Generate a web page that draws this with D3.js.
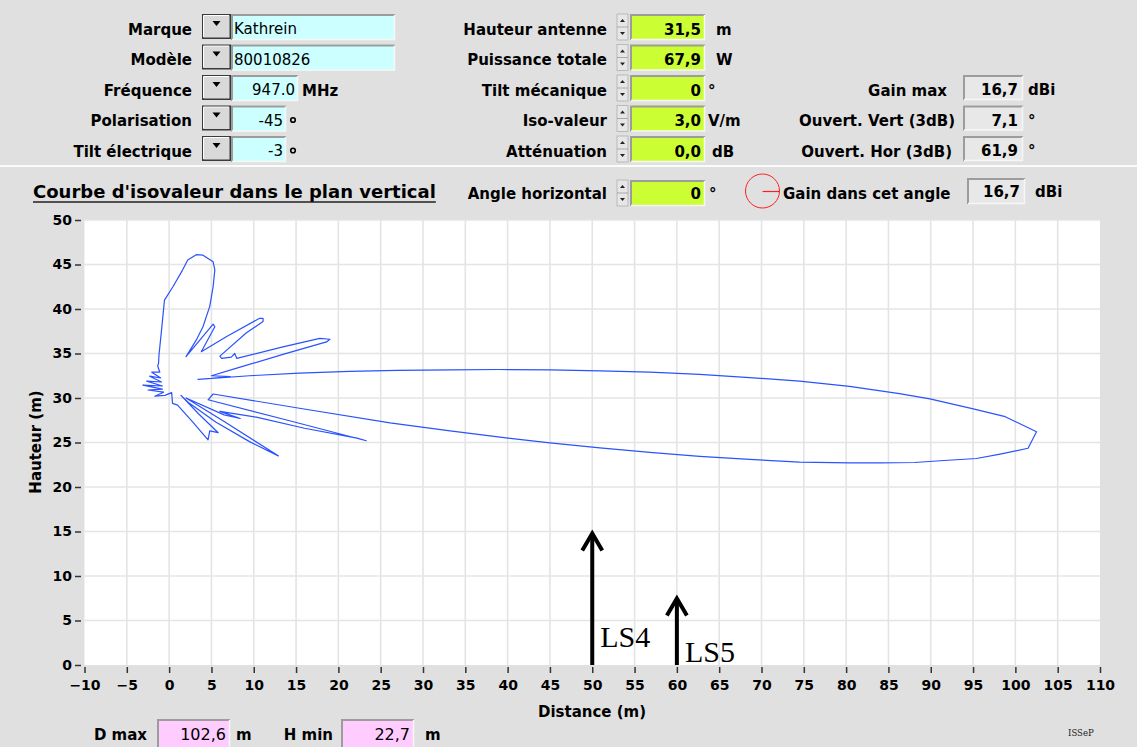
<!DOCTYPE html>
<html><head><meta charset="utf-8">
<script src="https://cdn.jsdelivr.net/npm/d3@7"></script>
<style>
body{margin:0;background:#e0e0e0;}
svg{display:block;font-family:"DejaVu Sans",sans-serif;}
</style></head><body>
<svg id="c" width="1137" height="747"></svg>
<script>
// ---------------- DATA ----------------
const xTickValues = [-10,-5,0,5,10,15,20,25,30,35,40,45,50,55,60,65,70,75,80,85,90,95,100,105,110];
const yTickValues = [0,5,10,15,20,25,30,35,40,45,50];

// iso-value contour in the vertical plane (distance m, height m), traced around the antenna
const curveDistance = [
  3.4,9.5,15.4,21.3,27,33.2,39,45,50.9,56.8,62.7,68.6,74.5,80.4,86.3,89.9,94.9,98.8,102.5,
  101.5,98.2,95.4,91.1,88.1,84,80.4,74.5,68.6,62.7,56.8,50.9,45,39.1,33.2,26.1,15.4,5.2,
  4.6,14,23.3,22.2,16,10.3,6.0,
  8.4,6.5,
  2.0,6.6,12.9,9.5,5.5,2.4,
  1.4,3.5,5.8,4.8,4.6,2.8,1.0,0.4,0.3,
  -0.5,-1.7,-0.65,-2.5,-0.8,-3.1,-0.8,-2.65,-0.9,-2.3,-1.0,-2.05,-1.1,-1.35,-1.25,
  -1.2,-0.9,-0.55,0.45,1.6,2.2,3.2,4.0,5.2,5.4,5.2,4.8,4.0,3.2,2.0,
  5.2,5.4,3.8,
  6.8,10.7,11.1,11.1,9.1,6.0,6.2,7.35,7.75,8.0,
  13.45,17.8,19.0,18.6,13.45,8.0,5.0,7.2,5.0
];
const curveHeight = [
  32.1,32.5,32.8,33.0,33.1,33.15,33.2,33.15,33.05,32.9,32.65,32.3,31.9,31.3,30.5,29.9,28.8,27.9,26.2,
  24.35,23.7,23.2,22.95,22.75,22.7,22.7,22.8,23.1,23.45,23.9,24.4,24.95,25.6,26.3,27.2,28.85,30.45,
  29.8,27.5,25.2,25.5,26.6,27.85,28.5,
  27.7,28.1,
  30.0,27.3,23.5,25.1,27.3,29.4,
  30.3,28.2,26.1,26.3,25.3,27.3,29.2,29.4,30.6,
  30.3,30.2,30.65,30.9,31.0,31.45,31.35,31.9,31.8,32.45,32.25,32.9,32.9,33.6,33.9,
  34.8,37.6,41.0,42.5,44.4,45.5,46.1,46.05,45.3,44.4,42.5,40.3,38.0,36.5,34.65,
  38.3,38.0,35.2,
  36.9,38.96,38.95,38.6,37.3,34.7,34.45,34.6,35.0,34.45,
  35.75,36.7,36.6,36.3,34.9,33.35,32.5,32.4,32.2
];

const arrowLabels = ["LS4","LS5"];
const arrowDistance = [50,60];
const arrowHeight = [15,7.7];

const leftLabels = ["Marque","Modèle","Fréquence","Polarisation","Tilt électrique"];
const leftValues = ["Kathrein","80010826","947.0","-45","-3"];
const leftUnits = ["","","MHz","°","°"];

const midLabels = ["Hauteur antenne","Puissance totale","Tilt mécanique","Iso-valeur","Atténuation"];
const midValues = ["31,5","67,9","0","3,0","0,0"];
const midUnits = ["m","W","°","V/m","dB"];

const rightLabels = ["Gain max","Ouvert. Vert (3dB)","Ouvert. Hor (3dB)"];
const rightValues = ["16,7","7,1","61,9"];
const rightUnits = ["dBi","°","°"];

const chartTitle = "Courbe d'isovaleur dans le plan vertical";
const angleLabel = "Angle horizontal";
const angleValue = "0";
const gainAngleLabel = "Gain dans cet angle";
const gainAngleValue = "16,7";
const dMax = "102,6";
const hMin = "22,7";

// ---------------- DRAWING ----------------
const svg = d3.select("#c");
const BOLD = 700;

function txt(x0, y0, s, opts = {}) {
  return svg.append("text").attr("x", x0).attr("y", y0).text(s)
    .attr("font-size", opts.size || 15)
    .attr("font-weight", opts.bold === false ? 400 : BOLD)
    .attr("text-anchor", opts.anchor || "start")
    .attr("fill", opts.fill || "#000")
    .attr("font-family", opts.family || null);
}
function sunken(x0, y0, w, h, fill) {
  svg.append("rect").attr("x", x0).attr("y", y0).attr("width", w).attr("height", h).attr("fill", fill);
  svg.append("path").attr("d", `M${x0+1},${y0+h}V${y0+1}H${x0+w}`)
    .attr("stroke", "#9c9c9c").attr("stroke-width", 2).attr("fill", "none");
  svg.append("path").attr("d", `M${x0+w-0.5},${y0+1}V${y0+h-0.5}H${x0+1}`)
    .attr("stroke", "#f6f6f6").attr("stroke-width", 1.5).attr("fill", "none");
}
function dropBtn(x0, y0, w, h) {
  svg.append("rect").attr("x", x0+0.75).attr("y", y0+0.75).attr("width", w-1.5).attr("height", h-1.5)
    .attr("fill", "#d9d9d9").attr("stroke", "#3a3a3a").attr("stroke-width", 1.5);
  svg.append("path").attr("d", `M${x0+1.5},${y0+h-2}V${y0+1.5}H${x0+w-2}`)
    .attr("stroke", "#fff").attr("stroke-width", 1).attr("fill", "none");
  const cx = x0 + w/2, cy = y0 + 9;
  svg.append("path").attr("d", `M${cx-4},${cy-2}L${cx+4},${cy-2}L${cx},${cy+3}Z`).attr("fill", "#000");
}
function spinner(x0, y0, h) {
  const w = 11;
  svg.append("rect").attr("x", x0).attr("y", y0).attr("width", w).attr("height", h)
    .attr("fill", "#e6e6e6").attr("stroke", "#b0b0b0").attr("stroke-width", 0.8);
  svg.append("line").attr("x1", x0).attr("x2", x0+w).attr("y1", y0+h/2).attr("y2", y0+h/2)
    .attr("stroke", "#9a9a9a").attr("stroke-width", 0.8);
  const cx = x0 + w/2;
  svg.append("path").attr("d", `M${cx-2.5},${y0+h/4+1.5}L${cx+2.5},${y0+h/4+1.5}L${cx},${y0+h/4-1.5}Z`).attr("fill", "#222");
  svg.append("path").attr("d", `M${cx-2.5},${y0+3*h/4-1.5}L${cx+2.5},${y0+3*h/4-1.5}L${cx},${y0+3*h/4+1.5}Z`).attr("fill", "#222");
}

// ---- top panel ----
const rowTop = i => 14 + 30.5*i;
const leftBoxW = [164,164,67,55,55];
leftLabels.forEach((lab, i) => {
  const T = rowTop(i);
  txt(192, T+20.5, lab, {anchor: "end"});
  dropBtn(202, T, 29, 25);
  sunken(231, T, leftBoxW[i], 26, "#ccffff");
  if (i < 2) txt(234, T+20, leftValues[i], {bold: false});
  else txt(231 + leftBoxW[i] - 3, T+20, leftValues[i], {bold: false, anchor: "end"});
  if (leftUnits[i] === "MHz") txt(302, T+20.5, "MHz");
  else if (leftUnits[i] === "°") {
    svg.append("circle").attr("cx", 293).attr("cy", T+14.5).attr("r", 2.3)
      .attr("fill", "none").attr("stroke", "#000").attr("stroke-width", 1.6);
  }
});
const midUnitX = [716,716,708,708,712];
midLabels.forEach((lab, i) => {
  const T = rowTop(i);
  txt(607, T+20.5, lab, {anchor: "end"});
  spinner(617, T, 26);
  sunken(630, T, 75, 26, "#ccff33");
  txt(701, T+20.5, midValues[i], {anchor: "end"});
  txt(midUnitX[i], T+20.5, midUnits[i]);
});
const rightLabelEnd = [947,955,952];
rightLabels.forEach((lab, i) => {
  const T = rowTop(i+2);
  txt(rightLabelEnd[i], T+20.5, lab, {anchor: "end"});
  sunken(963, T, 60, 25, "#e8e8e8");
  txt(1018, T+20, rightValues[i], {anchor: "end"});
  txt(1028, T+20, rightUnits[i]);
});
// separator
svg.append("line").attr("x1", 0).attr("x2", 1137).attr("y1", 166).attr("y2", 166)
  .attr("stroke", "#fbfbfb").attr("stroke-width", 2);

// ---- title row ----
const t = txt(33, 198, chartTitle, {size: 18});
const tl = t.node().getComputedTextLength();
svg.append("line").attr("x1", 33).attr("x2", 33 + tl).attr("y1", 202).attr("y2", 202)
  .attr("stroke", "#222").attr("stroke-width", 1.5);
txt(607, 199, angleLabel, {anchor: "end"});
spinner(617, 180, 26);
sunken(630, 180, 75, 26, "#ccff33");
txt(701, 199, angleValue, {anchor: "end"});
txt(709, 199, "°");
svg.append("circle").attr("cx", 762.5).attr("cy", 191).attr("r", 17)
  .attr("fill", "none").attr("stroke", "#ff2020").attr("stroke-width", 1);
svg.append("line").attr("x1", 762.5).attr("x2", 779.5).attr("y1", 191.5).attr("y2", 191.5)
  .attr("stroke", "#ff2020").attr("stroke-width", 1.2);
txt(783, 199, gainAngleLabel);
sunken(967, 178, 58, 26, "#e8e8e8");
txt(1020, 197, gainAngleValue, {anchor: "end"});
txt(1035, 197, "dBi");

// ---- plot ----
const x = d3.scaleLinear().domain([-10,110]).range([84.5,1100]);
const y = d3.scaleLinear().domain([0,50]).range([665,220]);

svg.append("rect").attr("x", x(-10)).attr("y", y(50))
  .attr("width", x(110)-x(-10)).attr("height", y(0)-y(50)).attr("fill", "#fff");
const grid = svg.append("g").attr("stroke", "#e4e4e4").attr("stroke-width", 1.6);
grid.selectAll(".gx").data(xTickValues.filter(d => d > -10 && d < 110)).join("line")
  .attr("x1", d => x(d)).attr("x2", d => x(d)).attr("y1", y(0)).attr("y2", y(50));
grid.selectAll(".gy").data(yTickValues.filter(d => d > 0)).join("line")
  .attr("x1", x(-10)).attr("x2", x(110)).attr("y1", d => y(d)).attr("y2", d => y(d));

const xAxis = d3.axisBottom(x).tickValues(xTickValues).tickSize(6).tickPadding(7)
  .tickFormat(d => d < 0 ? "\u2212" + (-d) : String(d));
const gx = svg.append("g").attr("transform", "translate(0,667)").call(xAxis);
const yAxis = d3.axisLeft(y).tickValues(yTickValues).tickSize(6).tickPadding(3);
const gy = svg.append("g").attr("transform", "translate(81,0)").call(yAxis);
[gx, gy].forEach(g => {
  g.select(".domain").remove();
  g.selectAll(".tick line").attr("stroke", "#333").attr("stroke-width", 1.5);
  g.selectAll(".tick text").attr("font-size", 14).attr("font-weight", BOLD)
    .attr("font-family", "DejaVu Sans").attr("fill", "#000");
});

txt(592, 717, "Distance (m)", {anchor: "middle"});
svg.append("text").attr("transform", "translate(41,442) rotate(-90)").attr("text-anchor", "middle")
  .attr("font-size", 15).attr("font-weight", BOLD).text("Hauteur (m)");

// contour
const pts = curveDistance.map((d, i) => [d, curveHeight[i]]);
svg.append("path").datum(pts)
  .attr("d", d3.line().x(d => x(d[0])).y(d => y(d[1])).curve(d3.curveLinearClosed))
  .attr("fill", "none").attr("stroke", "#2a52ff").attr("stroke-width", 1.2)
  .attr("stroke-linejoin", "round");

// arrows
const arrowLabelBaseline = [647, 662];
const ag = svg.append("g");
arrowDistance.forEach((d, i) => {
  const ax = x(d), top = y(arrowHeight[i]);
  ag.append("line").attr("x1", ax).attr("x2", ax).attr("y1", y(0)).attr("y2", top + 2)
    .attr("stroke", "#000").attr("stroke-width", 4);
  ag.append("path").attr("d", `M${ax-10},${top+19}L${ax},${top+2}L${ax+10},${top+19}`)
    .attr("fill", "none").attr("stroke", "#000").attr("stroke-width", 4);
  ag.append("text").attr("x", ax + 8).attr("y", arrowLabelBaseline[i]).text(arrowLabels[i])
    .attr("font-family", "Liberation Serif, serif").attr("font-size", 30).attr("fill", "#000");
});

// ---- bottom ----
txt(147, 740, "D max", {anchor: "end"});
sunken(157, 719, 73, 30, "#ffccff");
txt(226, 740, dMax, {anchor: "end", bold: false, size: 16});
txt(236, 740, "m");
txt(333, 740, "H min", {anchor: "end"});
sunken(341, 719, 73, 30, "#ffccff");
txt(410, 740, hMin, {anchor: "end", bold: false, size: 16});
txt(425, 740, "m");
svg.append("text").attr("x", 1068).attr("y", 736).text("ISSeP")
  .attr("font-family", "DejaVu Serif Condensed, serif").attr("font-size", 9.5).attr("fill", "#222");
</script>
</body></html>
